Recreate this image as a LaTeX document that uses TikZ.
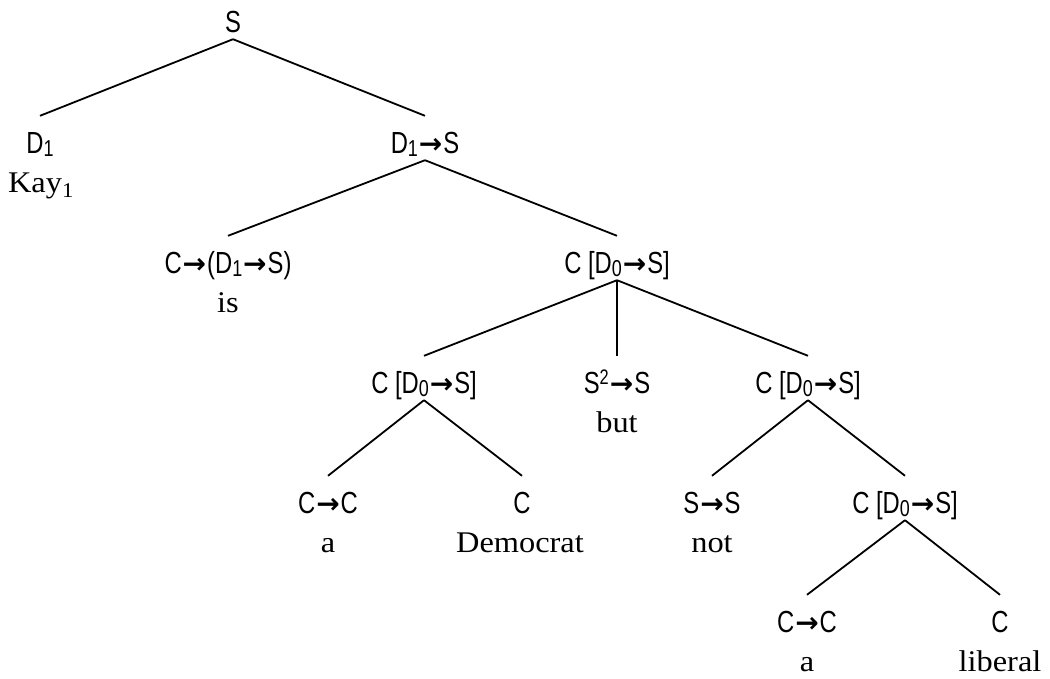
\documentclass[tikz,border=0pt]{standalone}
\usepackage{fontspec}
\setmainfont{Liberation Serif}
\newfontfamily\wordfont[FakeStretch=1.08]{Liberation Serif}
\newfontfamily\catfont[FakeStretch=0.78]{Liberation Sans}
\newfontfamily\arrfont{DejaVu Sans}
\newcommand\ar{{\arrfont\bfseries\fontsize{28}{30}\selectfont\kern1pt→\kern1pt}}
\newcommand\sub[1]{\raisebox{-0.1em}{\fontsize{23}{23}\selectfont #1}}
\newcommand\supr[1]{\raisebox{0.28em}{\fontsize{21}{21}\selectfont #1}}
\begin{document}
\begin{tikzpicture}[x=1pt,y=-1pt,
  cat/.style={font=\catfont\fontsize{30.5}{32}\selectfont, inner sep=0pt, text height=21pt, text depth=0pt},
  word/.style={font=\wordfont\fontsize{30}{34}\selectfont, inner sep=0pt, anchor=base},
  edge/.style={line width=1.8pt}]
\useasboundingbox (0,0) rectangle (1050,678);
\node[cat] (n0) at (233,22) {S};
\node[cat] (n1) at (40,143) {D\sub1};
\node[word] (w1) at (41,192) {Kay\textsubscript{1}};
\node[cat] (n2) at (425,143) {D\sub1\ar S};
\node[cat] (n3) at (228,263) {C\ar(D\sub1\ar S)};
\node[word] (w3) at (228,312) {is};
\node[cat] (n4) at (617,263) {C [D\sub0\ar S]};
\node[cat] (n5) at (424,383) {C [D\sub0\ar S]};
\node[cat] (n6) at (617,383) {S\supr2\ar S};
\node[word] (w6) at (617,432) {but};
\node[cat] (n7) at (808,383) {C [D\sub0\ar S]};
\node[cat] (n8) at (328,503) {C\ar C};
\node[word] (w8) at (328,552) {a};
\node[cat] (n9) at (522,503) {C};
\node[word] (w9) at (520,552) {Democrat};
\node[cat] (n10) at (712,503) {S\ar S};
\node[word] (w10) at (712,552) {not};
\node[cat] (n11) at (905,503) {C [D\sub0\ar S]};
\node[cat] (n12) at (807,622) {C\ar C};
\node[word] (w12) at (807,671) {a};
\node[cat] (n13) at (1000,622) {C};
\node[word] (w13) at (1000,671) {liberal};
\foreach \p/\c in {n0/n1,n0/n2,n2/n3,n2/n4,n4/n5,n4/n6,n4/n7,n5/n8,n5/n9,n7/n10,n7/n11,n11/n12,n11/n13}
  \draw[edge] ([yshift=-6.5pt]\p.south) -- ([yshift=16.5pt]\c.north);
\end{tikzpicture}
\end{document}
